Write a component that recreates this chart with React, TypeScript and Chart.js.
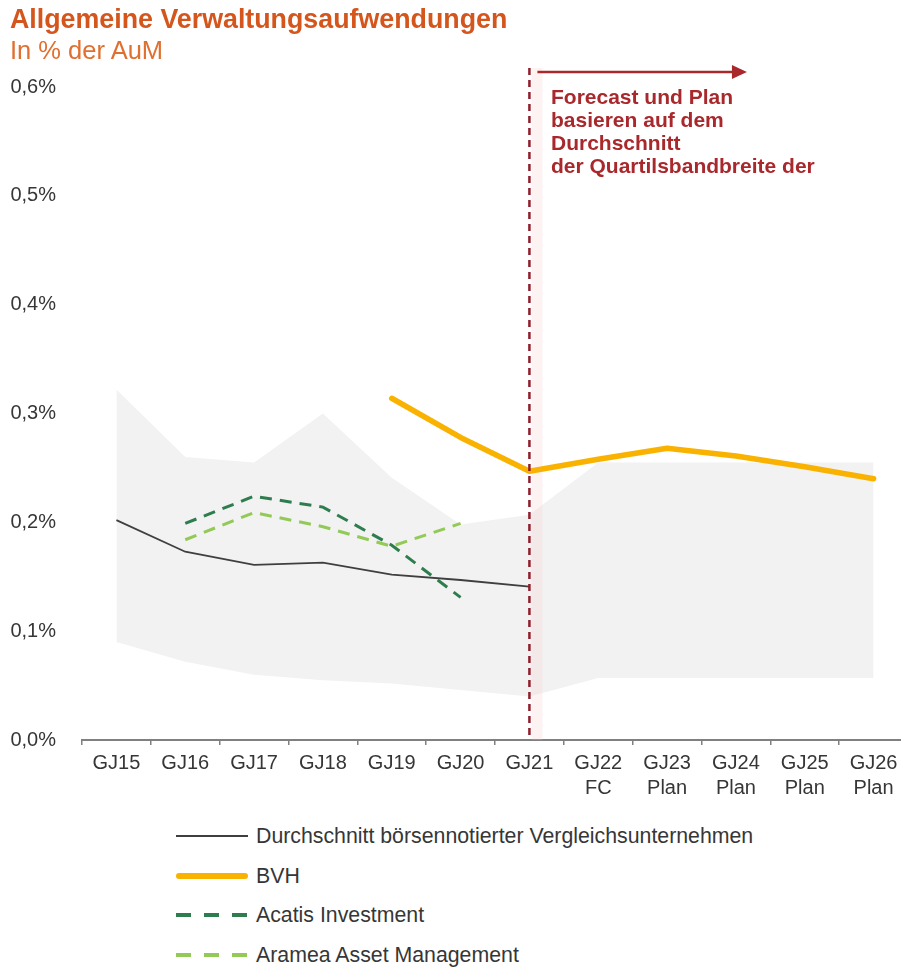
import React, { useEffect, useRef } from 'react';
import { Chart, registerables } from 'chart.js';

Chart.register(...registerables);

// ---------- data ----------
const categories = ['GJ15', 'GJ16', 'GJ17', 'GJ18', 'GJ19', 'GJ20', 'GJ21', 'GJ22', 'GJ23', 'GJ24', 'GJ25', 'GJ26'];
const subLabels = ['', '', '', '', '', '', '', 'FC', 'Plan', 'Plan', 'Plan', 'Plan'];

const avgPeers = [0.202, 0.173, 0.161, 0.163, 0.152, 0.147, 0.141, null, null, null, null, null];
const bvh = [null, null, null, null, 0.314, 0.278, 0.247, 0.258, 0.268, 0.261, 0.251, 0.240];
const acatis = [null, 0.199, 0.224, 0.214, 0.179, 0.131, null, null, null, null, null, null];
const aramea = [null, 0.184, 0.209, 0.196, 0.178, 0.199, null, null, null, null, null, null];
const bandUpper = [0.322, 0.260, 0.255, 0.300, 0.241, 0.198, 0.207, 0.255, 0.255, 0.255, 0.255, 0.255];
const bandLower = [0.090, 0.072, 0.060, 0.055, 0.052, 0.046, 0.040, 0.057, 0.057, 0.057, 0.057, 0.057];

const yMin = 0;
const yMax = 0.6;
const yStep = 0.1;

const seriesNames = [
  'Durchschnitt börsennotierter Vergleichsunternehmen',
  'BVH',
  'Acatis Investment',
  'Aramea Asset Management',
];

const titleText = 'Allgemeine Verwaltungsaufwendungen';
const subtitleText = 'In % der AuM';
const noteLines = ['Forecast und Plan', 'basieren auf dem', 'Durchschnitt', 'der Quartilsbandbreite der'];
const forecastStartIndex = 6; // GJ21
const arrowEndIndex = 9; // GJ24

// ---------- styles ----------
const FONT = "Arial, 'Liberation Sans', sans-serif";
const C_AVG = '#3f3f3f';
const C_BVH = '#f9b200';
const C_ACATIS = '#2e7d4f';
const C_ARAMEA = '#92c957';
const C_BAND = '#f2f2f2';
const C_NOTE = '#a8282c';
const C_TEXT = '#363636';

const legendStyles = [
  { color: C_AVG, height: 2, dash: false, round: false },
  { color: C_BVH, height: 6, dash: false, round: true },
  { color: C_ACATIS, height: 4, dash: true, round: false },
  { color: C_ARAMEA, height: 4, dash: true, round: false },
];

export default function App() {
  const canvasRef = useRef<HTMLCanvasElement>(null);

  useEffect(() => {
    const canvas = canvasRef.current;
    if (!canvas) return;

    const labels = categories.map((c, i) => (subLabels[i] ? [c, subLabels[i]] : c));

    const guidePlugin = {
      id: 'forecastGuide',
      beforeDatasetsDraw(chart: any) {
        const { ctx, chartArea, scales } = chart;
        const xc = scales.x.getPixelForValue(forecastStartIndex);
        ctx.save();
        ctx.fillStyle = 'rgba(250, 200, 200, 0.22)';
        ctx.fillRect(xc + 2, 68, 11, chartArea.bottom - 68);
        ctx.restore();
      },
      afterDatasetsDraw(chart: any) {
        const { ctx, chartArea, scales } = chart;
        const xc = scales.x.getPixelForValue(forecastStartIndex);
        const xe = scales.x.getPixelForValue(arrowEndIndex) + 11;
        ctx.save();
        // dashed vertical divider
        ctx.strokeStyle = '#8e1f2b';
        ctx.lineWidth = 2.5;
        ctx.setLineDash([7, 5]);
        ctx.beginPath();
        ctx.moveTo(xc, 68);
        ctx.lineTo(xc, chartArea.bottom);
        ctx.stroke();
        // arrow
        ctx.setLineDash([]);
        ctx.strokeStyle = C_NOTE;
        ctx.fillStyle = C_NOTE;
        ctx.lineWidth = 2.5;
        ctx.beginPath();
        ctx.moveTo(xc + 8, 72);
        ctx.lineTo(xe - 12, 72);
        ctx.stroke();
        ctx.beginPath();
        ctx.moveTo(xe, 72);
        ctx.lineTo(xe - 15, 65);
        ctx.lineTo(xe - 15, 79);
        ctx.closePath();
        ctx.fill();
        ctx.restore();
      },
    };

    const chart = new Chart(canvas, {
      type: 'line',
      data: {
        labels,
        datasets: [
          {
            label: 'Quartil oben',
            data: bandUpper,
            borderWidth: 0,
            pointRadius: 0,
            backgroundColor: C_BAND,
            borderColor: C_BAND,
            fill: '+1',
            order: 10,
          },
          {
            label: 'Quartil unten',
            data: bandLower,
            borderWidth: 0,
            pointRadius: 0,
            backgroundColor: C_BAND,
            borderColor: C_BAND,
            fill: false,
            order: 10,
          },
          {
            label: seriesNames[0],
            data: avgPeers,
            borderColor: C_AVG,
            borderWidth: 1.8,
            pointRadius: 0,
            fill: false,
            order: 3,
          },
          {
            label: seriesNames[2],
            data: acatis,
            borderColor: C_ACATIS,
            borderWidth: 3,
            borderDash: [12, 8],
            pointRadius: 0,
            fill: false,
            order: 2,
          },
          {
            label: seriesNames[3],
            data: aramea,
            borderColor: C_ARAMEA,
            borderWidth: 3,
            borderDash: [12, 8],
            pointRadius: 0,
            fill: false,
            order: 2,
          },
          {
            label: seriesNames[1],
            data: bvh,
            borderColor: C_BVH,
            borderWidth: 5.5,
            borderCapStyle: 'round',
            borderJoinStyle: 'round',
            pointRadius: 0,
            fill: false,
            order: 1,
          },
        ],
      },
      options: {
        responsive: false,
        animation: false,
        layout: { padding: { top: 87, right: 2, left: 0, bottom: 0 } },
        plugins: {
          legend: { display: false },
          tooltip: { enabled: false },
          title: { display: false },
          filler: { drawTime: 'beforeDatasetsDraw' },
        },
        scales: {
          x: {
            type: 'category',
            offset: true,
            grid: {
              offset: true,
              drawOnChartArea: false,
              drawTicks: true,
              tickLength: 5,
              color: '#808080',
              lineWidth: 1.5,
            },
            border: { display: true, color: '#808080', width: 2 },
            ticks: {
              color: C_TEXT,
              font: { family: FONT, size: 20, lineHeight: 1.25 },
              padding: 6,
              maxRotation: 0,
              autoSkip: false,
            },
            afterFit: (scale: any) => {
              scale.height = 70;
            },
          },
          y: {
            min: yMin,
            max: yMax,
            grid: { display: false, drawTicks: false },
            border: { display: false },
            ticks: {
              stepSize: yStep,
              color: C_TEXT,
              font: { family: FONT, size: 20 },
              padding: 26,
              callback: (v: any) => Number(v).toFixed(1).replace('.', ',') + '%',
            },
            afterFit: (scale: any) => {
              scale.width = 82;
            },
          },
        },
      },
      plugins: [guidePlugin],
    } as any);

    return () => chart.destroy();
  }, []);

  const legendRowCenters = [836, 876, 915, 955];

  return (
    <div
      style={{
        position: 'fixed',
        left: 0,
        top: 0,
        width: 901,
        height: 968,
        overflow: 'hidden',
        background: '#ffffff',
        fontFamily: FONT,
      }}
    >
      <canvas
        ref={canvasRef}
        width={910}
        height={810}
        style={{ position: 'absolute', left: 0, top: 0, width: 910, height: 810 }}
      />
      <div
        style={{
          position: 'absolute',
          left: 10,
          top: 4,
          fontSize: 26.8,
          lineHeight: '30px',
          fontWeight: 'bold',
          color: '#d4561c',
          whiteSpace: 'nowrap',
        }}
      >
        {titleText}
      </div>
      <div
        style={{
          position: 'absolute',
          left: 10,
          top: 35,
          fontSize: 25.5,
          lineHeight: '30px',
          color: '#e07030',
          whiteSpace: 'nowrap',
        }}
      >
        {subtitleText}
      </div>
      <div
        style={{
          position: 'absolute',
          left: 551,
          top: 85,
          fontSize: 21,
          lineHeight: '23px',
          fontWeight: 'bold',
          color: C_NOTE,
          whiteSpace: 'nowrap',
        }}
      >
        {noteLines.map((l, i) => (
          <div key={i}>{l}</div>
        ))}
      </div>
      {seriesNames.map((name, i) => {
        const s = legendStyles[i];
        const cy = legendRowCenters[i];
        return (
          <React.Fragment key={name}>
            <div
              style={{
                position: 'absolute',
                left: 176,
                top: cy - s.height / 2,
                width: 72,
                height: s.height,
                borderRadius: s.round ? s.height / 2 : 0,
                background: s.dash
                  ? `repeating-linear-gradient(to right, ${s.color} 0px, ${s.color} 15px, transparent 15px, transparent 28px)`
                  : s.color,
              }}
            />
            <div
              style={{
                position: 'absolute',
                left: 256,
                top: cy - 13,
                fontSize: 21.3,
                lineHeight: '26px',
                color: C_TEXT,
                whiteSpace: 'nowrap',
              }}
            >
              {name}
            </div>
          </React.Fragment>
        );
      })}
    </div>
  );
}
